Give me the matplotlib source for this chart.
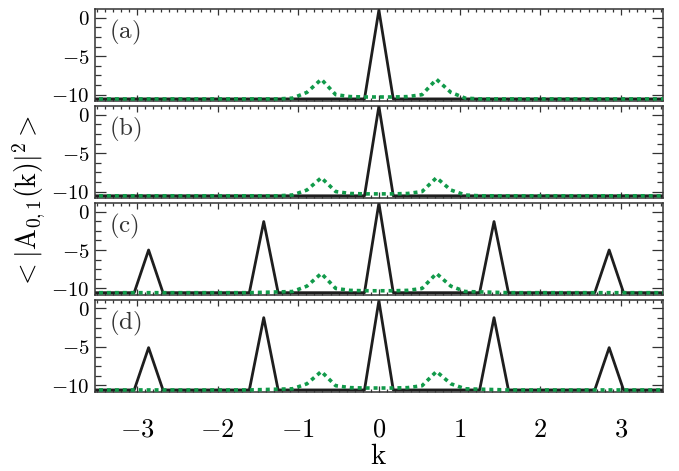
import numpy as np
import matplotlib
matplotlib.use('Agg')
import matplotlib.pyplot as plt
from matplotlib.ticker import MultipleLocator

plt.rcParams['mathtext.fontset'] = 'cm'
plt.rcParams['font.family'] = 'serif'
plt.rcParams['font.serif'] = ['DejaVu Serif']

# k grid (n = -20 ... 20)
dk = 0.1785
k = np.arange(-20, 21) * dk

panel_labels = ['(a)', '(b)', '(c)', '(d)']
xticks = [-3, -2, -1, 0, 1, 2, 3]
xtick_labels = ['$-3$', '$-2$', '$-1$', '$0$', '$1$', '$2$', '$3$']
yticks = [0, -5, -10]
ytick_labels = ['$0$', '$-5$', '$-10$']

# solid black curves, values at n = -20 ... 20
black_a = [-10.55, -10.55, -10.55, -10.55, -10.55, -10.55, -10.55, -10.55, -10.55, -10.55,
           -10.55, -10.55, -10.55, -10.55, -10.55, -10.55, -10.55, -10.55, -10.55, -10.55,
           1.0,
           -10.55, -10.55, -10.55, -10.55, -10.55, -10.55, -10.55, -10.55, -10.55, -10.55,
           -10.55, -10.55, -10.55, -10.55, -10.55, -10.55, -10.55, -10.55, -10.55, -10.55]
black_b = [-10.55, -10.55, -10.55, -10.55, -10.55, -10.55, -10.55, -10.55, -10.55, -10.55,
           -10.55, -10.55, -10.55, -10.55, -10.55, -10.55, -10.55, -10.55, -10.55, -10.55,
           1.1,
           -10.55, -10.55, -10.55, -10.55, -10.55, -10.55, -10.55, -10.55, -10.55, -10.55,
           -10.55, -10.55, -10.55, -10.55, -10.55, -10.55, -10.55, -10.55, -10.55, -10.55]
black_c = [-10.55, -10.55, -10.55, -10.55, -5.0, -10.55, -10.55, -10.55, -10.55, -10.55,
           -10.55, -10.55, -1.3, -10.55, -10.55, -10.55, -10.55, -10.55, -10.55, -10.55,
           1.1,
           -10.55, -10.55, -10.55, -10.55, -10.55, -10.55, -10.55, -1.3, -10.55, -10.55,
           -10.55, -10.55, -10.55, -10.55, -10.55, -5.0, -10.55, -10.55, -10.55, -10.55]
black_d = [-10.6, -10.6, -10.6, -10.6, -5.1, -10.6, -10.6, -10.6, -10.6, -10.6,
           -10.6, -10.6, -1.2, -10.6, -10.6, -10.6, -10.6, -10.6, -10.6, -10.6,
           1.0,
           -10.6, -10.6, -10.6, -10.6, -10.6, -10.6, -10.6, -1.2, -10.6, -10.6,
           -10.6, -10.6, -10.6, -10.6, -10.6, -5.1, -10.6, -10.6, -10.6, -10.6]

# dotted green curves, values at n = -20 ... 20
green_a = [-10.55, -10.55, -10.55, -10.55, -10.55, -10.55, -10.55, -10.55, -10.55, -10.55,
           -10.55, -10.55, -10.55, -10.55, -10.45, -9.7, -8.0, -10.0, -10.25, -10.3,
           -10.3,
           -10.3, -10.25, -10.0, -8.0, -9.7, -10.45, -10.55, -10.55, -10.55, -10.55,
           -10.55, -10.55, -10.55, -10.55, -10.55, -10.55, -10.55, -10.55, -10.55, -10.55]
green_b = [-10.55, -10.55, -10.55, -10.55, -10.55, -10.55, -10.55, -10.55, -10.55, -10.55,
           -10.55, -10.55, -10.55, -10.55, -10.45, -9.8, -8.2, -10.0, -10.25, -10.3,
           -10.3,
           -10.3, -10.25, -10.0, -8.2, -9.8, -10.45, -10.55, -10.55, -10.55, -10.55,
           -10.55, -10.55, -10.55, -10.55, -10.55, -10.55, -10.55, -10.55, -10.55, -10.55]
green_c = [-10.55, -10.55, -10.55, -10.55, -10.55, -10.55, -10.55, -10.55, -10.55, -10.55,
           -10.55, -10.55, -10.5, -10.45, -10.4, -9.7, -8.05, -10.0, -10.25, -10.3,
           -10.3,
           -10.3, -10.25, -10.0, -8.05, -9.7, -10.4, -10.45, -10.5, -10.55, -10.55,
           -10.55, -10.55, -10.55, -10.55, -10.55, -10.55, -10.55, -10.55, -10.55, -10.55]
green_d = [-10.6, -10.6, -10.6, -10.6, -10.6, -10.6, -10.6, -10.6, -10.6, -10.6,
           -10.6, -10.6, -10.55, -10.5, -10.45, -9.8, -8.2, -10.05, -10.3, -10.35,
           -10.35,
           -10.35, -10.3, -10.05, -8.2, -9.8, -10.45, -10.5, -10.55, -10.6, -10.6,
           -10.6, -10.6, -10.6, -10.6, -10.6, -10.6, -10.6, -10.6, -10.6, -10.6]

black_all = [black_a, black_b, black_c, black_d]
green_all = [green_a, green_b, green_c, green_d]

fig, axes = plt.subplots(4, 1, figsize=(6.79, 4.71), dpi=100, sharex=True)
fig.subplots_adjust(left=0.14, right=0.976, top=0.981, bottom=0.168, hspace=0.05)

for ax, blk, grn, lab in zip(axes, black_all, green_all, panel_labels):
    ax.plot(k, blk, color='#1e1e1e', lw=2.0, zorder=2)
    ax.plot(k, grn, color='#119a4a', lw=2.6, ls=(0, (1.1, 1.1)), zorder=3)
    ax.set_xlim(-3.52, 3.52)
    ax.set_ylim(-10.85, 1.15)
    ax.set_yticks(yticks)
    ax.set_yticklabels(ytick_labels, fontsize=15)
    ax.yaxis.set_minor_locator(MultipleLocator(1.25))
    ax.xaxis.set_minor_locator(MultipleLocator(0.1))
    ax.tick_params(which='both', direction='in', top=True, right=True,
                   color='#333333', width=0.9)
    ax.tick_params(axis='y', which='major', length=8, pad=4)
    ax.tick_params(axis='y', which='minor', length=4)
    ax.tick_params(axis='x', which='major', length=4)
    ax.tick_params(axis='x', which='minor', length=2.5)
    for sp in ax.spines.values():
        sp.set_linewidth(1.1)
        sp.set_color('#333333')
    ax.text(0.025, 0.74, r'$\mathrm{' + lab + '}$', transform=ax.transAxes,
            fontsize=18, ha='left', va='center', color='#333333')

axes[-1].set_xticks(xticks)
axes[-1].set_xticklabels(xtick_labels, fontsize=19)
axes[-1].tick_params(axis='x', which='major', pad=18)
axes[-1].set_xlabel(r'$\mathrm{k}$', fontsize=21, labelpad=0)

fig.text(0.044, 0.571, r'$<|\mathrm{A}_{0,1}(\mathrm{k})|^2>$', rotation=90,
         fontsize=20, ha='center', va='center')

fig.savefig('out.png', dpi=100)
